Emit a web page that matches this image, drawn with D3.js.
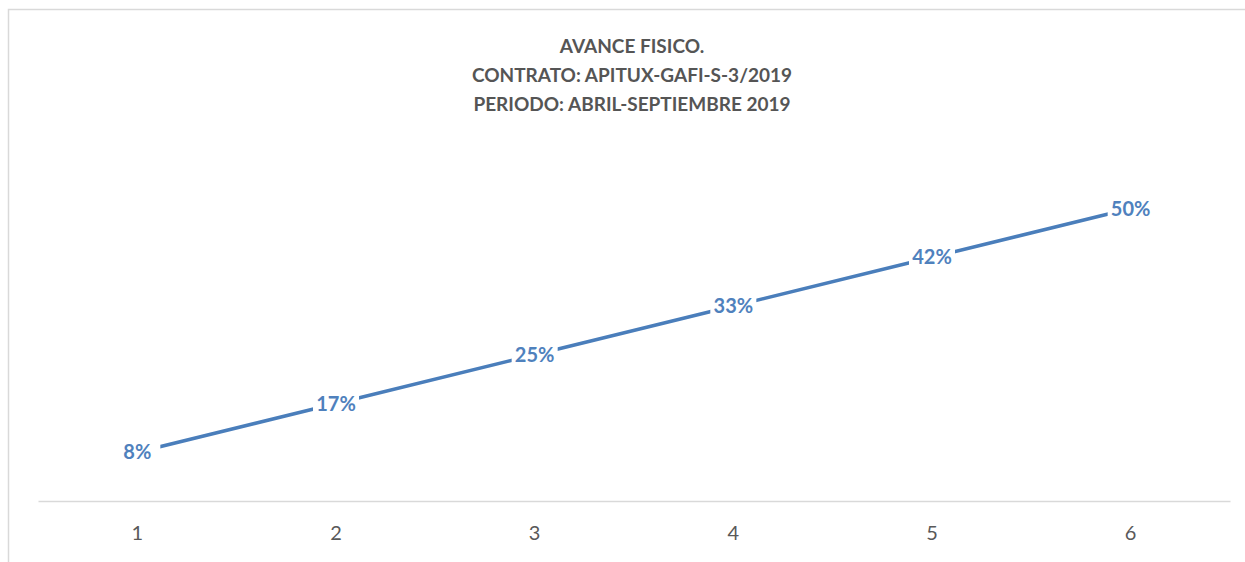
<!DOCTYPE html>
<html>
<head>
<meta charset="utf-8">
<script src="https://cdn.jsdelivr.net/npm/d3@7"></script>
<style>
  body { margin: 0; background: #fff; }
  svg { display: block; font-family: Lato, "Open Sans", sans-serif; }
</style>
</head>
<body>
<svg width="1245" height="562"></svg>
<script>
var titleLines = ["AVANCE FISICO.", "CONTRATO: APITUX-GAFI-S-3/2019", "PERIODO: ABRIL-SEPTIEMBRE 2019"];
var periods = ["1", "2", "3", "4", "5", "6"];
var avance = [8.33, 16.67, 25, 33.33, 41.67, 50];
var labels = ["8%", "17%", "25%", "33%", "42%", "50%"];

var svg = d3.select("svg"),
margin = {top: 150, right: 15, bottom: 61, left: 38},
width = +svg.attr("width") - margin.left - margin.right,
height = +svg.attr("height") - margin.top - margin.bottom,
g = svg.append("g").attr("transform", "translate(" + margin.left + "," + margin.top + ")");

// chart border (only top and left visible)
svg.append("path")
.attr("d", "M8.5,562 V9.5 H1245")
.attr("fill", "none")
.attr("stroke", "#d9d9d9")
.attr("stroke-width", 1.5);

svg.append("g")
.selectAll("text")
.data(titleLines)
.enter().append("text")
.attr("x", 632)
.attr("y", function(d, i) { return 53 + i * 29; })
.attr("text-anchor", "middle")
.attr("fill", "#555")
.attr("font-weight", "bold")
.attr("font-size", 19)
.text(function(d) { return d; });

var x = d3.scaleBand()
.domain(periods)
.range([0, width]);

var y = d3.scaleLinear()
.domain([0, 60])
.range([height, 0]);

// x axis
var xAxis = g.append("g")
.attr("transform", "translate(0," + height + ")")
.call(d3.axisBottom(x).tickSize(0).tickPadding(25));
xAxis.select(".domain").attr("stroke", "#d9d9d9").attr("stroke-width", 1.5);
xAxis.selectAll("text")
.attr("fill", "#595959")
.attr("font-size", 20)
.attr("font-family", "Lato, 'Open Sans', sans-serif");

var line = d3.line()
.x(function(d, i) { return x(periods[i]) + x.bandwidth() / 2; })
.y(function(d) { return y(d); });

g.append("path")
.datum(avance)
.attr("fill", "none")
.attr("stroke", "#4a7ebb")
.attr("stroke-width", 3.5)
.attr("d", line);

var lab = g.append("g")
.selectAll("g")
.data(avance)
.enter().append("g")
.attr("transform", function(d, i) {
  return "translate(" + (x(periods[i]) + x.bandwidth() / 2) + "," + y(d) + ")";
});

lab.append("rect")
.attr("x", -23)
.attr("y", -11)
.attr("width", 46)
.attr("height", 22)
.attr("fill", "#fff");

lab.append("text")
.attr("text-anchor", "middle")
.attr("dy", "0.36em")
.attr("fill", "#4f81bd")
.attr("font-weight", "bold")
.attr("font-size", 20)
.text(function(d, i) { return labels[i]; });
</script>
</body>
</html>
